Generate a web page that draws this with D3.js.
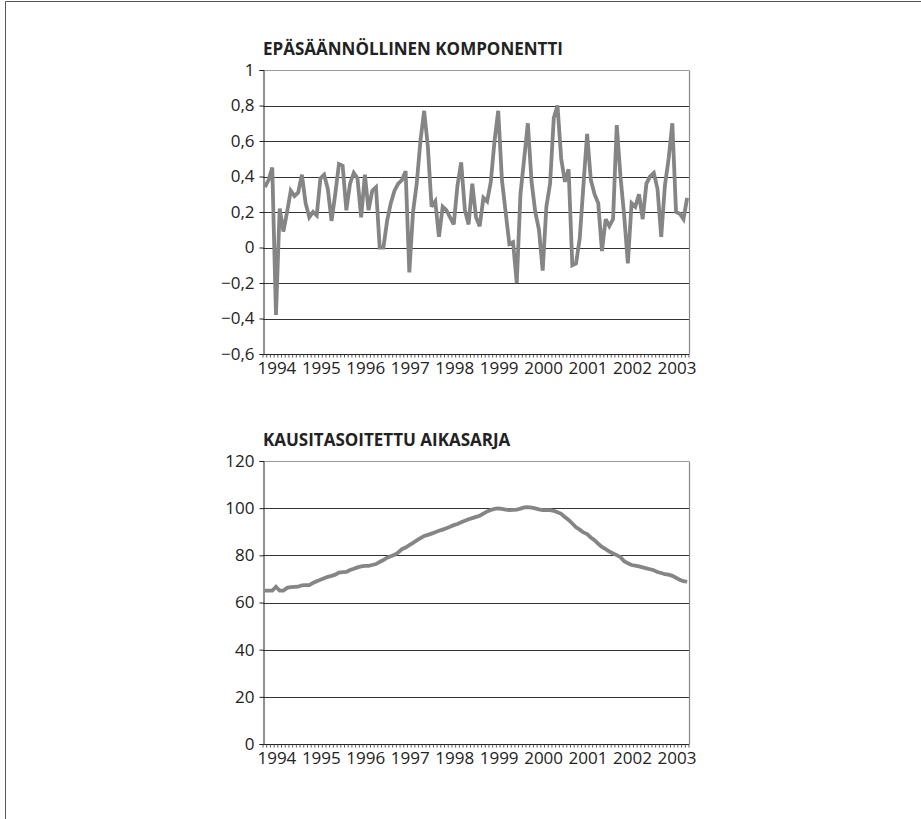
<!DOCTYPE html>
<html>
<head>
<meta charset="utf-8">
<script src="https://cdn.jsdelivr.net/npm/d3@7/dist/d3.min.js"></script>
<style>
  html, body { margin: 0; padding: 0; background: #fff; }
  svg { display: block; }
  text { font-family: "Open Sans", "Noto Sans", sans-serif; fill: #222; }
</style>
</head>
<body>
<svg id="chart" width="921" height="819"></svg>
<script>
// ---------- DATA ----------
const yearLabels = ["1994","1995","1996","1997","1998","1999","2000","2001","2002","2003"];

// Irregular component (monthly, Jan 1994 ->)
const irregular = [
  0.34, 0.38, 0.45, -0.38, 0.22, 0.09, 0.20, 0.32, 0.29, 0.31,
  0.41, 0.25, 0.17, 0.20, 0.18, 0.39, 0.41, 0.33, 0.15, 0.30,
  0.47, 0.46, 0.21, 0.36, 0.42, 0.39, 0.17, 0.41, 0.21, 0.32,
  0.34, 0.00, 0.00, 0.15, 0.25, 0.32, 0.36, 0.38, 0.43, -0.14,
  0.20, 0.36, 0.60, 0.77, 0.57, 0.23, 0.26, 0.06, 0.23, 0.21,
  0.17, 0.13, 0.35, 0.48, 0.21, 0.13, 0.36, 0.17, 0.12, 0.28,
  0.26, 0.37, 0.60, 0.77, 0.38, 0.20, 0.02, 0.03, -0.20, 0.30,
  0.50, 0.70, 0.37, 0.20, 0.10, -0.13, 0.23, 0.36, 0.73, 0.80,
  0.50, 0.37, 0.44, -0.10, -0.09, 0.05, 0.35, 0.64, 0.38, 0.30,
  0.25, -0.02, 0.16, 0.12, 0.16, 0.69, 0.40, 0.18, -0.09, 0.25,
  0.23, 0.30, 0.16, 0.36, 0.40, 0.42, 0.33, 0.06, 0.35, 0.50,
  0.70, 0.20, 0.19, 0.16, 0.28
];

// Seasonally adjusted series (monthly, Jan 1994 ->)
const seasonAdjusted = [
  65.0, 65.0, 65.0, 66.7, 65.0, 65.0, 66.2, 66.5, 66.6, 66.7,
  67.3, 67.4, 67.4, 68.3, 69.0, 69.6, 70.3, 70.9, 71.3, 71.8,
  72.7, 72.9, 73.0, 73.8, 74.3, 74.9, 75.3, 75.5, 75.5, 75.9,
  76.3, 77.2, 78.0, 79.0, 79.6, 80.2, 81.2, 82.6, 83.3, 84.3,
  85.3, 86.3, 87.3, 88.2, 88.7, 89.2, 89.8, 90.4, 90.9, 91.5,
  92.1, 92.8, 93.3, 94.0, 94.7, 95.3, 95.8, 96.3, 96.8, 97.7,
  98.6, 99.2, 99.7, 99.9, 99.7, 99.4, 99.2, 99.3, 99.4, 99.8,
  100.3, 100.4, 100.2, 99.9, 99.5, 99.2, 99.2, 99.2, 98.9, 98.3,
  97.6, 96.2, 95.0, 93.5, 91.9, 90.9, 89.7, 89.0, 87.6, 86.4,
  84.9, 83.6, 82.6, 81.6, 80.8, 80.1, 79.2, 77.5, 76.6, 75.9,
  75.6, 75.3, 74.9, 74.5, 74.1, 73.7, 72.9, 72.5, 72.0, 71.8,
  71.3, 70.5, 69.6, 69.1, 68.8
];

const irregularTicks = [-0.6, -0.4, -0.2, 0, 0.2, 0.4, 0.6, 0.8, 1];
const adjustedTicks = [0, 20, 40, 60, 80, 100, 120];

const titles = ["EPÄSÄÄNNÖLLINEN KOMPONENTTI", "KAUSITASOITETTU AIKASARJA"];

// categories: month indices
const categories = d3.range(irregular.length);

// ---------- DRAW ----------
const svg = d3.select("#chart");

// page frame
svg.append("line").attr("x1", 5.5).attr("y1", 1.5).attr("x2", 921).attr("y2", 1.5)
  .attr("stroke", "#555").attr("stroke-width", 1);
svg.append("line").attr("x1", 5.5).attr("y1", 1.5).attr("x2", 5.5).attr("y2", 819)
  .attr("stroke", "#555").attr("stroke-width", 1);

const fiLocale = d3.formatLocale({decimal: ",", thousands: " ", grouping: [3], currency: ["", " €"], minus: "\u2212"});
const f1 = fiLocale.format(".1f");
const fmtIrr = v => (Number.isInteger(v) ? fiLocale.format("d")(v) : f1(v));
const fmtAdj = fiLocale.format("d");

function panel(opts) {
  const {left, right, top, bottom, domain, ticks, fmt, values, title, titleY} = opts;
  const g = svg.append("g");
  const x = d3.scaleBand().domain(categories).range([left, right]).paddingInner(0).paddingOuter(0);
  const y = d3.scaleLinear().domain(domain).range([bottom, top]);
  const bw = x.bandwidth();

  // gridlines
  g.append("g").selectAll("line").data(ticks.filter(t => t !== domain[0]))
    .join("line")
    .attr("x1", left).attr("x2", right)
    .attr("y1", d => Math.round(y(d)) + 0.5).attr("y2", d => Math.round(y(d)) + 0.5)
    .attr("stroke", d => d === domain[1] ? "#999" : "#333")
    .attr("stroke-width", 1.1);

  // right border of plot
  g.append("line").attr("x1", Math.round(right) + 0.5).attr("x2", Math.round(right) + 0.5)
    .attr("y1", Math.round(y(domain[1])) + 0.5).attr("y2", Math.round(bottom) + 0.5)
    .attr("stroke", "#888").attr("stroke-width", 1.2);

  // y axis
  const yAxis = d3.axisLeft(y).tickValues(ticks).tickFormat(fmt).tickSize(4).tickPadding(5);
  const ya = g.append("g").attr("transform", `translate(${Math.round(left) + 0.5},0)`).call(yAxis);
  ya.select(".domain").attr("stroke", "#222");
  ya.selectAll(".tick line").attr("stroke", "#222");
  ya.selectAll(".tick text").attr("font-size", 17).attr("fill", "#222")
    .style("font-family", '"Open Sans", sans-serif');

  // x axis: minor ticks at every month boundary
  const xa = g.append("g");
  xa.append("line").attr("x1", left).attr("x2", right)
    .attr("y1", Math.round(bottom) + 0.5).attr("y2", Math.round(bottom) + 0.5)
    .attr("stroke", "#222");
  xa.selectAll("line.mt").data(categories.concat([categories.length]))
    .join("line").attr("class", "mt")
    .attr("x1", d => (d < categories.length ? x(d) : right))
    .attr("x2", d => (d < categories.length ? x(d) : right))
    .attr("y1", Math.round(bottom) + 0.5).attr("y2", Math.round(bottom) + 3.5)
    .attr("stroke", "#444").attr("stroke-width", 0.9);
  xa.selectAll("text").data(yearLabels)
    .join("text")
    .attr("x", (d, i) => x(i * 12) + bw * 3.75)
    .attr("y", bottom + 20)
    .attr("text-anchor", "middle")
    .attr("font-size", 17)
    .text(d => d);

  // line
  const line = d3.line().x((d, i) => x(i) + bw / 2).y(d => y(d)).curve(d3.curveLinear);
  g.append("path").datum(values).attr("d", line)
    .attr("fill", "none").attr("stroke", "#858585").attr("stroke-width", 3.8)
    .attr("stroke-linejoin", "miter").attr("stroke-miterlimit", 3);

  // title
  g.append("text").attr("x", left).attr("y", titleY)
    .attr("font-size", 17).attr("font-weight", 700).attr("fill", "#111")
    .text(title);
}

panel({left: 263, right: 689, top: 70, bottom: 354, domain: [-0.6, 1], ticks: irregularTicks,
  fmt: fmtIrr, values: irregular, title: titles[0], titleY: 55});
panel({left: 263, right: 689, top: 461, bottom: 744, domain: [0, 120], ticks: adjustedTicks,
  fmt: fmtAdj, values: seasonAdjusted, title: titles[1], titleY: 446});
</script>
</body>
</html>
